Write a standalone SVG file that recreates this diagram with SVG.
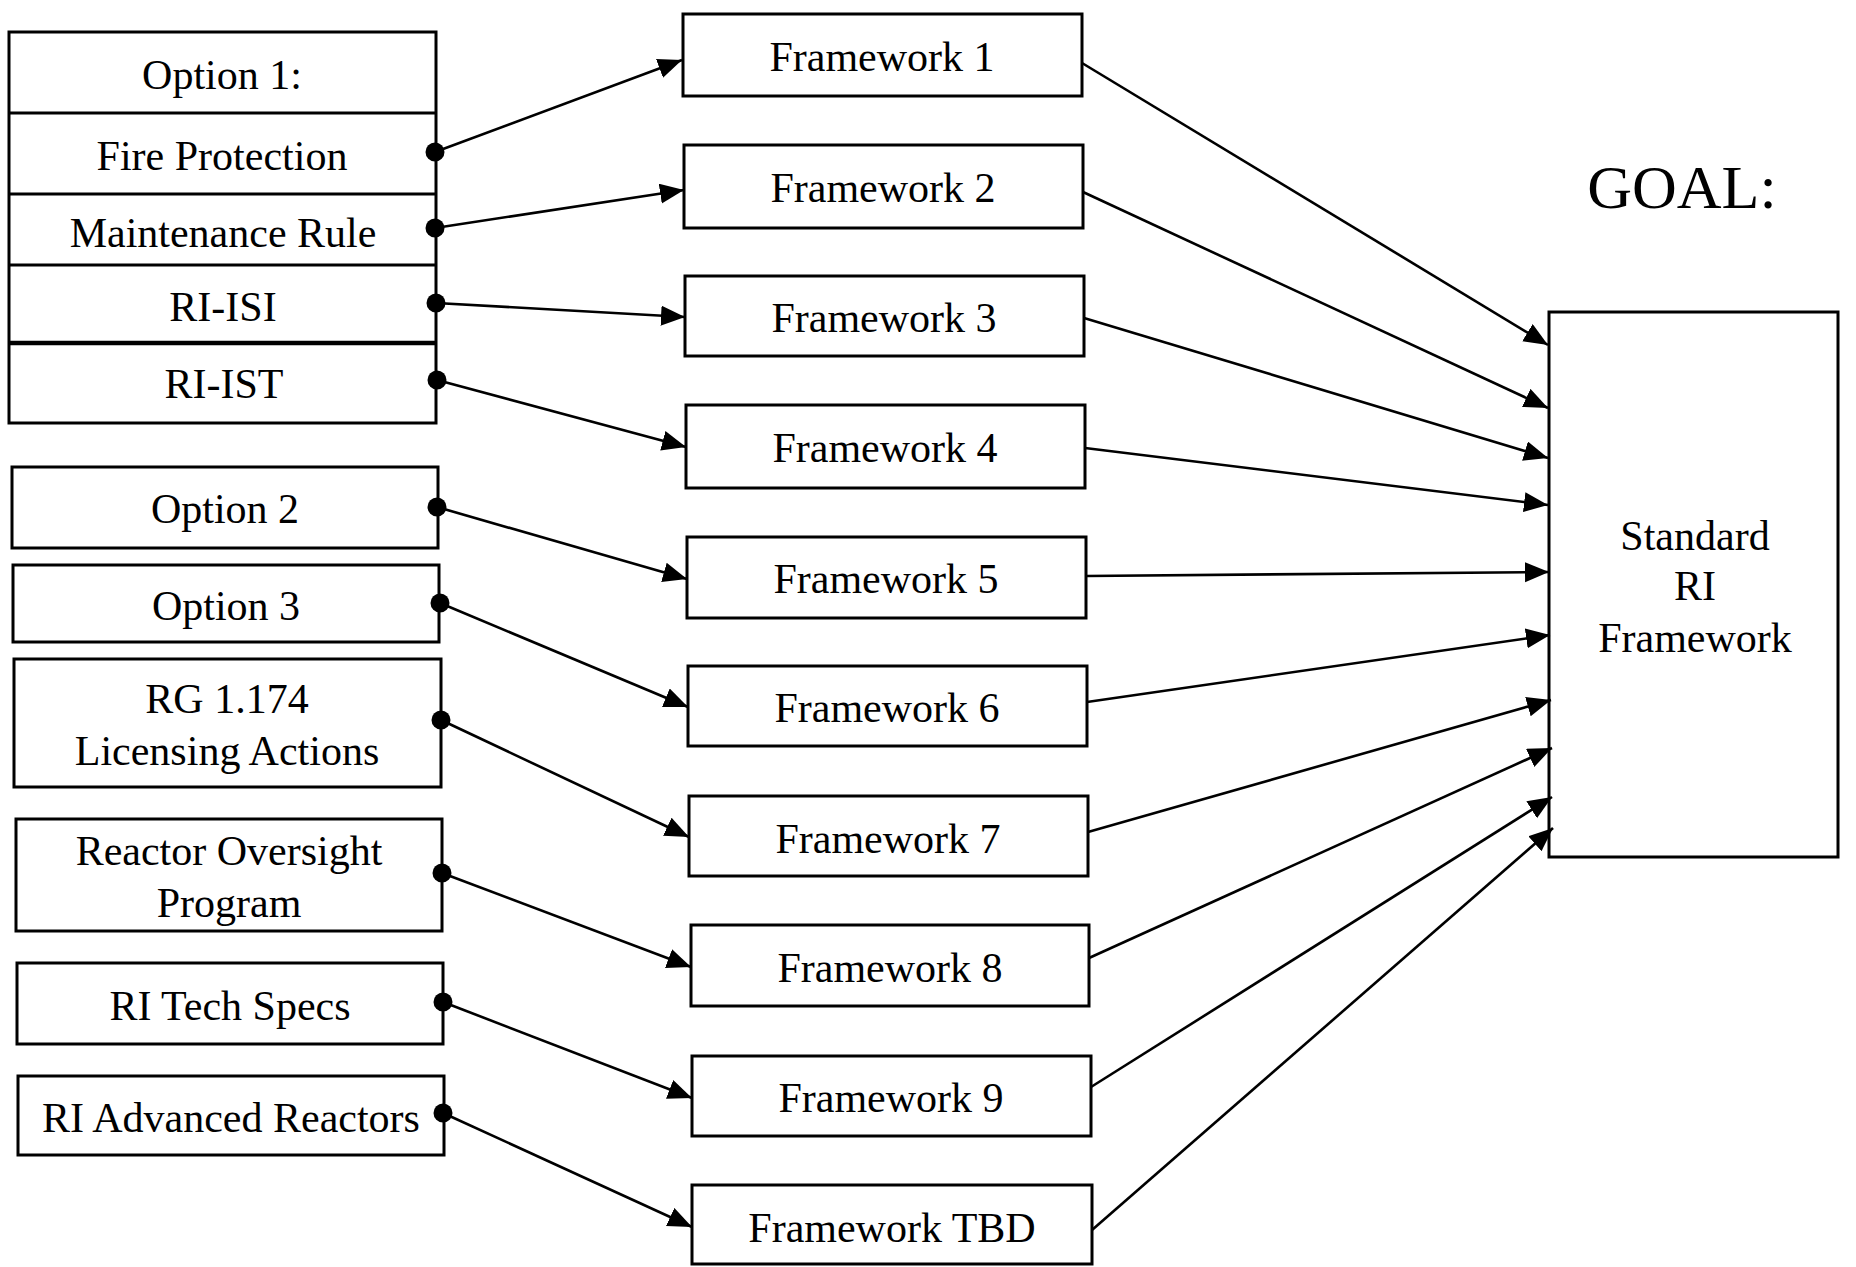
<svg xmlns="http://www.w3.org/2000/svg" width="1856" height="1267" viewBox="0 0 1856 1267">
<defs>
<style>
.box{fill:#fff;stroke:#000;stroke-width:3}
.div{stroke:#000;stroke-width:3}
.t{font-family:"Liberation Serif","Times New Roman",serif;font-size:42px;fill:#000;text-anchor:middle}
.goal{font-family:"Liberation Serif","Times New Roman",serif;font-size:62px;fill:#000;text-anchor:middle}
.c{stroke:#000;stroke-width:2.6;fill:none;marker-end:url(#ah)}
.dot{fill:#000}
</style>
<marker id="ah" markerUnits="userSpaceOnUse" markerWidth="26" markerHeight="22" refX="24" refY="10" orient="auto">
<path d="M0,0 L24,10 L0,20 z" fill="#000"/>
</marker>
</defs>
<rect width="1856" height="1267" fill="#fff"/>

<g id="option1">
<rect class="box" x="9" y="32" width="427" height="391"/>
<line class="div" x1="9" y1="113" x2="436" y2="113"/>
<line class="div" x1="9" y1="194" x2="436" y2="194"/>
<line class="div" x1="9" y1="265" x2="436" y2="265"/>
<line class="div" x1="9" y1="343" x2="436" y2="343" style="stroke-width:4.5"/>
<text class="t" x="222" y="89">Option 1:</text>
<text class="t" x="222" y="170">Fire Protection</text>
<text class="t" x="223" y="247">Maintenance Rule</text>
<text class="t" x="223" y="321">RI-ISI</text>
<text class="t" x="224" y="398">RI-IST</text>
</g>
<g id="option2"><rect class="box" x="12" y="467" width="426" height="81"/><text class="t" x="225" y="523">Option 2</text></g>
<g id="option3"><rect class="box" x="13" y="565" width="426" height="77"/><text class="t" x="226" y="620">Option 3</text></g>
<g id="rg1174"><rect class="box" x="14" y="659" width="427" height="128"/><text class="t" x="227" y="713">RG 1.174</text><text class="t" x="227" y="765">Licensing Actions</text></g>
<g id="rop"><rect class="box" x="16" y="819" width="426" height="112"/><text class="t" x="229" y="865">Reactor Oversight</text><text class="t" x="229" y="917">Program</text></g>
<g id="techspecs"><rect class="box" x="17" y="963" width="426" height="81"/><text class="t" x="230" y="1020">RI Tech Specs</text></g>
<g id="advanced"><rect class="box" x="18" y="1076" width="426" height="79"/><text class="t" x="231" y="1132">RI Advanced Reactors</text></g>

<g id="fw1"><rect class="box" x="683" y="14" width="399" height="82"/><text class="t" x="882" y="71">Framework 1</text></g>
<g id="fw2"><rect class="box" x="684" y="145" width="399" height="83"/><text class="t" x="883" y="202">Framework 2</text></g>
<g id="fw3"><rect class="box" x="685" y="276" width="399" height="80"/><text class="t" x="884" y="332">Framework 3</text></g>
<g id="fw4"><rect class="box" x="686" y="405" width="399" height="83"/><text class="t" x="885" y="462">Framework 4</text></g>
<g id="fw5"><rect class="box" x="687" y="537" width="399" height="81"/><text class="t" x="886" y="593">Framework 5</text></g>
<g id="fw6"><rect class="box" x="688" y="666" width="399" height="80"/><text class="t" x="887" y="722">Framework 6</text></g>
<g id="fw7"><rect class="box" x="689" y="796" width="399" height="80"/><text class="t" x="888" y="853">Framework 7</text></g>
<g id="fw8"><rect class="box" x="691" y="925" width="398" height="81"/><text class="t" x="890" y="982">Framework 8</text></g>
<g id="fw9"><rect class="box" x="692" y="1056" width="399" height="80"/><text class="t" x="891" y="1112">Framework 9</text></g>
<g id="fwtbd"><rect class="box" x="692" y="1185" width="400" height="79"/><text class="t" x="892" y="1242">Framework TBD</text></g>

<g id="goal-label"><text class="goal" x="1682" y="208">GOAL:</text></g>
<g id="standard"><rect class="box" x="1549" y="312" width="289" height="545"/>
<text class="t" x="1695" y="550">Standard</text>
<text class="t" x="1695" y="600">RI</text>
<text class="t" x="1695" y="652">Framework</text></g>

<g id="connectors">
<line class="c" x1="435" y1="152" x2="682" y2="60"/>
<line class="c" x1="435" y1="228" x2="684" y2="190"/>
<line class="c" x1="436" y1="303" x2="685" y2="317"/>
<line class="c" x1="437" y1="380" x2="686" y2="447"/>
<line class="c" x1="437" y1="507" x2="687" y2="579"/>
<line class="c" x1="440" y1="603" x2="688" y2="707"/>
<line class="c" x1="441" y1="720" x2="689" y2="837"/>
<line class="c" x1="442" y1="873" x2="691" y2="967"/>
<line class="c" x1="443" y1="1002" x2="692" y2="1098"/>
<line class="c" x1="443" y1="1113" x2="692" y2="1227"/>
<circle class="dot" cx="435" cy="152" r="9.5"/>
<circle class="dot" cx="435" cy="228" r="9.5"/>
<circle class="dot" cx="436" cy="303" r="9.5"/>
<circle class="dot" cx="437" cy="380" r="9.5"/>
<circle class="dot" cx="437" cy="507" r="9.5"/>
<circle class="dot" cx="440" cy="603" r="9.5"/>
<circle class="dot" cx="441" cy="720" r="9.5"/>
<circle class="dot" cx="442" cy="873" r="9.5"/>
<circle class="dot" cx="443" cy="1002" r="9.5"/>
<circle class="dot" cx="443" cy="1113" r="9.5"/>
<line class="c" x1="1082" y1="63" x2="1548" y2="345"/>
<line class="c" x1="1083" y1="192" x2="1548" y2="408"/>
<line class="c" x1="1084" y1="318" x2="1548" y2="458"/>
<line class="c" x1="1085" y1="448" x2="1548" y2="505"/>
<line class="c" x1="1086" y1="576" x2="1549" y2="572"/>
<line class="c" x1="1087" y1="702" x2="1550" y2="635"/>
<line class="c" x1="1088" y1="832" x2="1551" y2="700"/>
<line class="c" x1="1089" y1="958" x2="1552" y2="748"/>
<line class="c" x1="1091" y1="1087" x2="1552" y2="797"/>
<line class="c" x1="1092" y1="1230" x2="1553" y2="828"/>
</g>
</svg>
